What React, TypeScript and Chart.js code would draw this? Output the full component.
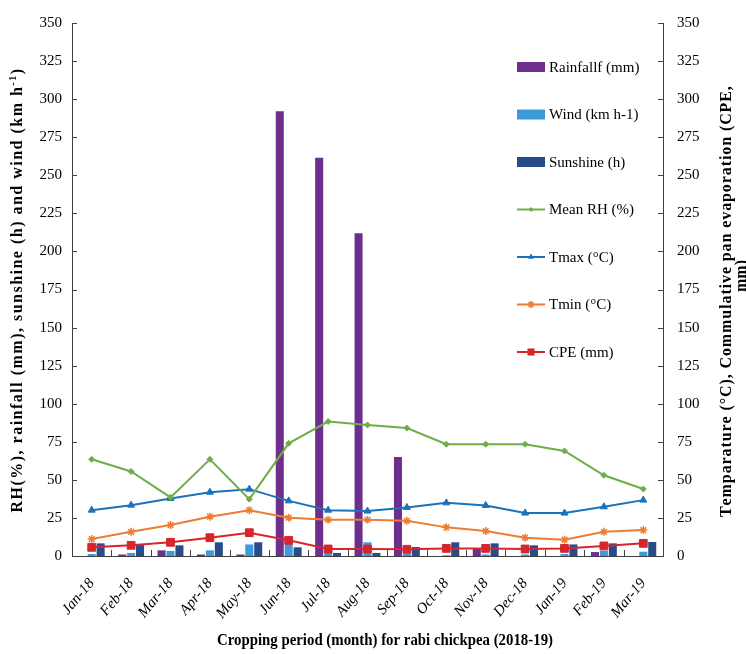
import React, { useEffect, useRef } from 'react';
import { Chart, registerables } from 'chart.js';

Chart.register(...registerables);

// ---- data ----
const months = ['Jan-18', 'Feb-18', 'Mar-18', 'Apr-18', 'May-18', 'Jun-18', 'Jul-18', 'Aug-18', 'Sep-18', 'Oct-18', 'Nov-18', 'Dec-18', 'Jan-19', 'Feb-19', 'Mar-19'];
const rainfall = [0, 1, 3.7, 1, 1, 292, 261.5, 212, 65, 0, 5, 0, 0, 2.6, 0];
const wind = [1.3, 2, 3.3, 3.7, 7.6, 8.3, 4, 9, 1.5, 0.5, 1, 1, 1.3, 3.5, 2.8];
const sunshine = [8.3, 7.2, 7, 9, 9, 5.7, 2, 2, 5.9, 9, 8.3, 7, 7.6, 8.3, 9.2];
const meanRH = [63.5, 55.5, 38.5, 63.5, 37.3, 74, 88.3, 86, 84, 73.4, 73.4, 73.4, 69, 53, 44];
const tmax = [30.1, 33.4, 37.8, 41.9, 43.9, 36.2, 30.1, 29.5, 31.9, 34.9, 33.2, 28.2, 28.2, 32.3, 36.7];
const tmin = [11.1, 15.9, 20.3, 25.8, 30.1, 25.1, 23.8, 23.8, 23.1, 18.8, 16.4, 12, 10.7, 15.9, 17];
const cpe = [5.7, 7, 9, 12, 15.3, 10.3, 4.6, 4.6, 4.4, 5, 5, 4.6, 5, 6.6, 8.3];

const axisMin = 0;
const axisMax = 350;
const axisStep = 25;

const xTitle = 'Cropping period (month) for rabi chickpea (2018-19)';
const leftTitleParts = [
  { t: 'RH(%), rainfall (mm), sunshine (h) and wind (km h', sup: false },
  { t: '-1', sup: true },
  { t: ')', sup: false },
];
const rightTitle1 = 'Temparature (°C), Commulative pan evaporation (CPE,';
const rightTitle2 = 'mm)';

const SERIF = '"Liberation Serif", "Times New Roman", serif';

const COLORS = {
  rain: '#6E2E8E',
  wind: '#3D9BDA',
  sun: '#274C89',
  rh: '#70AD47',
  tmax: '#1A72BB',
  tmin: '#ED7D31',
  cpe: '#D7262B',
};

function drawMarker(ctx: CanvasRenderingContext2D, style: string, x: number, y: number, r: number, color: string) {
  ctx.save();
  ctx.fillStyle = color;
  ctx.strokeStyle = color;
  ctx.lineWidth = 1.5;
  ctx.beginPath();
  if (style === 'rectRot') {
    ctx.moveTo(x, y - r); ctx.lineTo(x + r, y); ctx.lineTo(x, y + r); ctx.lineTo(x - r, y); ctx.closePath(); ctx.fill();
  } else if (style === 'triangle') {
    ctx.moveTo(x, y - r); ctx.lineTo(x + r * 0.87, y + r * 0.5); ctx.lineTo(x - r * 0.87, y + r * 0.5); ctx.closePath(); ctx.fill();
  } else if (style === 'star') {
    const d = r * 0.707;
    ctx.moveTo(x - d, y - d); ctx.lineTo(x + d, y + d);
    ctx.moveTo(x + d, y - d); ctx.lineTo(x - d, y + d);
    ctx.moveTo(x, y - r); ctx.lineTo(x, y + r);
    ctx.moveTo(x - r, y); ctx.lineTo(x + r, y);
    ctx.stroke();
  } else {
    const s = r * 0.707;
    ctx.rect(x - s, y - s, 2 * s, 2 * s); ctx.fill();
  }
  ctx.restore();
}

const decorPlugin = {
  id: 'decor',
  afterDraw(chart: any) {
    const ctx: CanvasRenderingContext2D = chart.ctx;
    const area = chart.chartArea;
    const yS = chart.scales.y;
    ctx.save();
    // inward tick marks
    ctx.strokeStyle = '#404040';
    ctx.lineWidth = 1;
    for (let v = axisMin; v <= axisMax; v += axisStep) {
      const py = Math.round(yS.getPixelForValue(v)) + 0.5;
      ctx.beginPath();
      ctx.moveTo(area.left, py); ctx.lineTo(area.left + 5, py);
      ctx.moveTo(area.right, py); ctx.lineTo(area.right - 5, py);
      ctx.stroke();
    }
    const n = months.length;
    const cw = (area.right - area.left) / n;
    for (let i = 1; i < n; i++) {
      const px = Math.round(area.left + cw * i) + 0.5;
      ctx.beginPath();
      ctx.moveTo(px, area.bottom); ctx.lineTo(px, area.bottom - 6);
      ctx.stroke();
    }

    // legend
    const items = chart.data.datasets.map((ds: any) => ds);
    const lx = area.right - 146;
    const ly0 = area.top + 44;
    const step = 47.5;
    ctx.font = `15px ${SERIF}`;
    ctx.textBaseline = 'middle';
    ctx.textAlign = 'left';
    items.forEach((ds: any, i: number) => {
      const cy = ly0 + i * step;
      if (ds.type === 'bar') {
        ctx.fillStyle = ds.backgroundColor;
        ctx.fillRect(lx, cy - 5, 28, 10);
      } else {
        ctx.strokeStyle = ds.borderColor;
        ctx.lineWidth = 2;
        ctx.beginPath(); ctx.moveTo(lx, cy); ctx.lineTo(lx + 28, cy); ctx.stroke();
        drawMarker(ctx, ds.pointStyle, lx + 14, cy, Math.max(2.5, ds.pointRadius - 0.5), ds.borderColor);
      }
      ctx.fillStyle = '#000';
      ctx.fillText(ds.label, lx + 32, cy + 1);
    });

    // axis titles
    ctx.fillStyle = '#000';
    const boldFont = `bold 16px ${SERIF}`;
    // x title (condensed)
    ctx.save();
    ctx.font = boldFont;
    ctx.textAlign = 'center';
    ctx.textBaseline = 'middle';
    const xw = ctx.measureText(xTitle).width;
    ctx.translate(385, 641);
    ctx.scale(336 / xw, 1);
    ctx.fillText(xTitle, 0, 0);
    ctx.restore();

    // left title with superscript
    ctx.save();
    ctx.translate(18, 290);
    ctx.rotate(-Math.PI / 2);
    ctx.textAlign = 'left';
    ctx.textBaseline = 'middle';
    const supFont = `bold 10px ${SERIF}`;
    let total = 0;
    leftTitleParts.forEach((p) => {
      ctx.font = p.sup ? supFont : boldFont;
      total += ctx.measureText(p.t).width;
    });
    const target = 445;
    const nChars = leftTitleParts.reduce((a, p) => a + p.t.length, 0);
    const extra = Math.max(0, (target - total) / nChars);
    let cx = -Math.max(target, total) / 2;
    leftTitleParts.forEach((p) => {
      ctx.font = p.sup ? supFont : boldFont;
      for (const ch of p.t) {
        ctx.fillText(ch, cx, p.sup ? -5 : 0);
        cx += ctx.measureText(ch).width + extra;
      }
    });
    ctx.restore();

    // right title, two lines
    const drawSpaced = (text: string, x: number, y: number, len: number) => {
      ctx.save();
      ctx.translate(x, y);
      ctx.rotate(-Math.PI / 2);
      ctx.font = boldFont;
      ctx.textAlign = 'left';
      ctx.textBaseline = 'middle';
      const w = ctx.measureText(text).width;
      const ex = len > w ? (len - w) / text.length : 0;
      const L = Math.max(len, w);
      let px = -L / 2;
      for (const ch of text) {
        ctx.fillText(ch, px, 0);
        px += ctx.measureText(ch).width + ex;
      }
      ctx.restore();
    };
    drawSpaced(rightTitle1, 727, 302, 430);
    drawSpaced(rightTitle2, 742, 276, 0);

    ctx.restore();
  },
};

export default function App() {
  const ref = useRef<HTMLCanvasElement | null>(null);

  useEffect(() => {
    if (!ref.current) return;
    const tickFont = { family: SERIF, size: 15 };
    const chart = new Chart(ref.current, {
      type: 'bar',
      data: {
        labels: months,
        datasets: [
          { type: 'bar', label: 'Rainfallf (mm)', data: rainfall, backgroundColor: COLORS.rain, yAxisID: 'y', order: 1, categoryPercentage: 0.68, barPercentage: 0.9 } as any,
          { type: 'bar', label: 'Wind (km h-1)', data: wind, backgroundColor: COLORS.wind, yAxisID: 'y', order: 1, categoryPercentage: 0.68, barPercentage: 0.9 } as any,
          { type: 'bar', label: 'Sunshine (h)', data: sunshine, backgroundColor: COLORS.sun, yAxisID: 'y', order: 1, categoryPercentage: 0.68, barPercentage: 0.9 } as any,
          { type: 'line', label: 'Mean RH (%)', data: meanRH, borderColor: COLORS.rh, backgroundColor: COLORS.rh, borderWidth: 2, pointStyle: 'rectRot', pointRadius: 3, pointBorderWidth: 1, yAxisID: 'y1', order: 0, tension: 0 } as any,
          { type: 'line', label: 'Tmax (°C)', data: tmax, borderColor: COLORS.tmax, backgroundColor: COLORS.tmax, borderWidth: 2, pointStyle: 'triangle', pointRadius: 4, pointBorderWidth: 1, yAxisID: 'y1', order: 0, tension: 0 } as any,
          { type: 'line', label: 'Tmin (°C)', data: tmin, borderColor: COLORS.tmin, backgroundColor: COLORS.tmin, borderWidth: 2, pointStyle: 'star', pointRadius: 4, pointBorderWidth: 1.5, yAxisID: 'y1', order: 0, tension: 0 } as any,
          { type: 'line', label: 'CPE (mm)', data: cpe, borderColor: COLORS.cpe, backgroundColor: COLORS.cpe, borderWidth: 2, pointStyle: 'rect', pointRadius: 5.5, pointBorderWidth: 1, yAxisID: 'y1', order: 0, tension: 0 } as any,
        ],
      },
      options: {
        responsive: false,
        animation: false,
        devicePixelRatio: 1,
        layout: { padding: { top: 21, left: 0, right: 0, bottom: 0 } },
        plugins: {
          legend: { display: false },
          tooltip: { enabled: false },
        },
        scales: {
          x: {
            type: 'category',
            offset: true,
            grid: { display: false, drawTicks: false },
            border: { display: true, color: '#404040', width: 1 },
            ticks: {
              autoSkip: false,
              minRotation: 50,
              maxRotation: 50,
              padding: 19,
              color: '#000',
              font: { family: SERIF, size: 15, style: 'italic' },
            },
            afterFit: (s: any) => { s.height = 98; },
          },
          y: {
            position: 'left',
            min: axisMin,
            max: axisMax,
            grid: { display: false, drawTicks: false },
            border: { display: true, color: '#404040', width: 1 },
            ticks: { stepSize: axisStep, padding: 10, color: '#000', font: tickFont },
            afterFit: (s: any) => { s.width = 72; },
          },
          y1: {
            position: 'right',
            min: axisMin,
            max: axisMax,
            grid: { display: false, drawTicks: false },
            border: { display: true, color: '#404040', width: 1 },
            ticks: { stepSize: axisStep, padding: 14, color: '#000', font: tickFont },
            afterFit: (s: any) => { s.width = 83; },
          },
        },
      },
      plugins: [decorPlugin],
    } as any);
    return () => chart.destroy();
  }, []);

  return (
    <div style={{ position: 'absolute', left: 0, top: 0, width: 746, height: 654, background: '#fff' }}>
      <canvas ref={ref} width={746} height={654} style={{ display: 'block', width: 746, height: 654 }} />
    </div>
  );
}
